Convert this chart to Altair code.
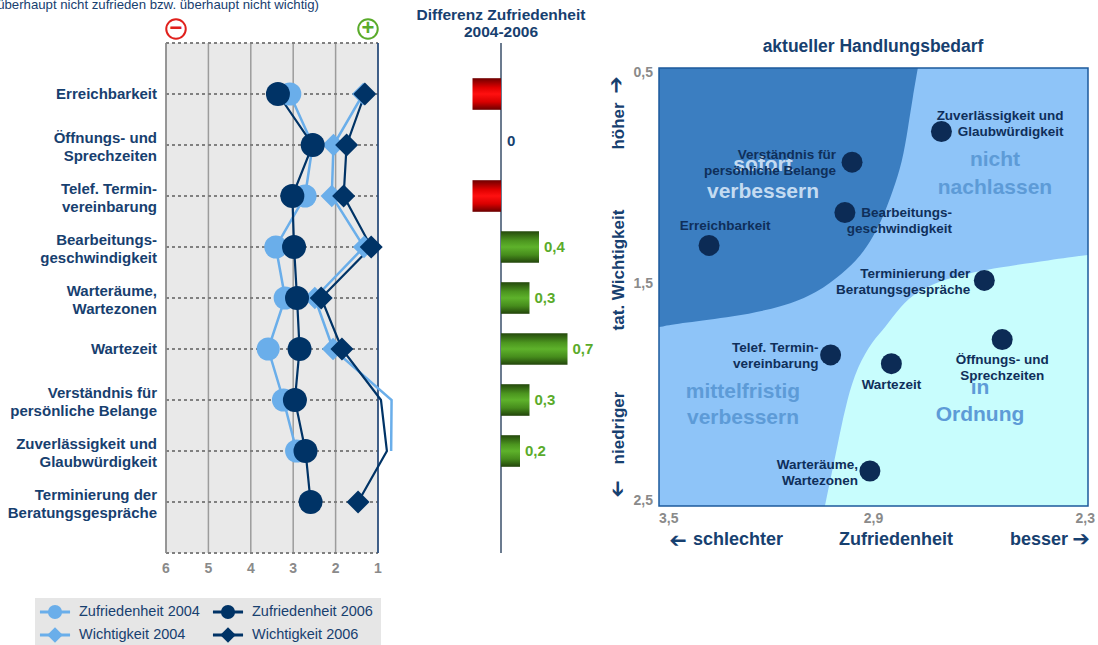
import altair as alt
import pandas as pd

W, H = 1098, 645
FONT = "Liberation Sans"
ARROW_FONT = "DejaVu Sans"
NAVY = "#17406f"
DEEP = "#0f2f5a"
GREY = "#8a8a8a"
LIGHT = "#6aaeea"
DARK = "#003366"

# ---- data -------------------------------------------------------------
categories = [
    "Erreichbarkeit",
    "Öffnungs- und\nSprechzeiten",
    "Telef. Termin-\nvereinbarung",
    "Bearbeitungs-\ngeschwindigkeit",
    "Warteräume,\nWartezonen",
    "Wartezeit",
    "Verständnis für\npersönliche Belange",
    "Zuverlässigkeit und\nGlaubwürdigkeit",
    "Terminierung der\nBeratungsgespräche",
]
zufriedenheit_2004 = [3.08, 2.54, 2.72, 3.41, 3.19, 3.59, 3.23, 2.92, None]
zufriedenheit_2006 = [3.36, 2.54, 3.02, 2.98, 2.91, 2.85, 2.96, 2.71, 2.59]
wichtigkeit_2004 = [1.35, 2.05, 2.09, 1.33, 2.49, 2.06, 0.68, 0.69, None]
wichtigkeit_2006 = [1.31, 1.74, 1.81, 1.16, 2.34, 1.85, 0.93, 0.79, 1.47]
differenz = [-0.3, 0.0, -0.3, 0.4, 0.3, 0.7, 0.3, 0.2, None]

left_ticks = [6, 5, 4, 3, 2, 1]
scatter_x_ticks = [3.5, 2.9, 2.3]
scatter_y_ticks = [0.5, 1.5, 2.5]

# outlines of the shaded action zones (Zufriedenheit, Wichtigkeit)
zone_sofort_x = [3.5, 3.433, 3.293, 3.153, 3.058, 2.985, 2.938, 2.901, 2.873, 2.845, 2.820, 2.803, 2.790, 2.776]
zone_sofort_y = [1.683, 1.664, 1.637, 1.591, 1.527, 1.436, 1.363, 1.272, 1.180, 1.057, 0.934, 0.769, 0.632, 0.5]
zone_ok_x = [3.036, 3.013, 2.994, 2.974, 2.946, 2.901, 2.868, 2.826, 2.778, 2.686, 2.546, 2.406, 2.300]
zone_ok_y = [2.5, 2.322, 2.167, 2.016, 1.865, 1.742, 1.687, 1.591, 1.518, 1.454, 1.409, 1.377, 1.354]

df = pd.DataFrame({
    "row": list(range(len(categories))),
    "label": categories,
    "z04": zufriedenheit_2004,
    "z06": zufriedenheit_2006,
    "w04": wichtigkeit_2004,
    "w06": wichtigkeit_2006,
    "diff": differenz,
})
df["lines"] = df["label"].str.count("\n") + 1

ONE = pd.DataFrame({"k": [0]})

# ---- panel scales (pixel ranges on the 1098x645 canvas) -----------------
LX = alt.Scale(domain=[6, 1], range=[166, 378], nice=False, zero=False)
LY = alt.Scale(domain=[-1, 9], range=[43, 553], nice=False, zero=False)
MX = alt.Scale(domain=[0, 1], range=[501, 596], nice=False, zero=False)
RX = alt.Scale(domain=[3.5, 2.3], range=[659, 1088], nice=False, zero=False)
RY = alt.Scale(domain=[0.5, 2.5], range=[68, 506], nice=False, zero=False)


def note(text, x, y, size, color=NAVY, bold=True, align="center",
         baseline="middle", angle=None, line_height=None, font=FONT):
    props = dict(text=text, font=font, fontSize=size,
                 fontWeight="bold" if bold else "normal", color=color,
                 align=align, baseline=baseline, lineBreak="\n")
    if angle is not None:
        props["angle"] = angle
    if line_height is not None:
        props["lineHeight"] = line_height
    return alt.Chart(ONE).mark_text(**props).encode(x=alt.value(x), y=alt.value(y))


def arrow(x, y, angle):
    return note("➔", x, y, 21, font=ARROW_FONT, bold=False, angle=angle)


layers = []

# ---- left panel: profile chart --------------------------------------------
layers.append(note("(1 = sehr zufrieden bzw. sehr wichtig, 6 = überhaupt nicht zufrieden bzw. überhaupt nicht wichtig)",
                   319, 9, 13.2, bold=False, align="right", baseline="alphabetic"))

for x, sym, c in [(176, "−", "#e0201c"), (368, "+", "#5aab2a")]:
    layers.append(alt.Chart(ONE).mark_point(shape="circle", filled=False, size=380, strokeWidth=2,
                                            opacity=1, color=c).encode(x=alt.value(x), y=alt.value(29)))
    layers.append(note(sym, x, 28, 22, color=c))

panel = pd.DataFrame({"x1": [6], "x2": [1], "y1": [-1], "y2": [9]})
layers.append(alt.Chart(panel).mark_rect(color="#e9e9e9").encode(
    x=alt.X("x1:Q", scale=LX, axis=None), x2="x2:Q",
    y=alt.Y("y1:Q", scale=LY, axis=None), y2="y2:Q"))

grid_df = pd.DataFrame({"x": [5, 4, 3, 2], "y1": -1, "y2": 9})
layers.append(alt.Chart(grid_df).mark_rule(color="#9c9c9c", strokeWidth=1.5).encode(
    x=alt.X("x:Q", scale=LX, axis=None), y=alt.Y("y1:Q", scale=LY, axis=None), y2="y2:Q"))

hline_df = pd.DataFrame({"y": list(range(-1, 10)), "x1": 6, "x2": 1})
layers.append(alt.Chart(hline_df).mark_rule(color="#808080", strokeWidth=2, strokeDash=[3, 3]).encode(
    y=alt.Y("y:Q", scale=LY, axis=None), x=alt.X("x1:Q", scale=LX, axis=None), x2="x2:Q"))

edge_df = pd.DataFrame({"x": [6, 1], "y1": -1, "y2": 9, "c": ["#8c8c8c", "#2d4f7c"]})
layers.append(alt.Chart(edge_df).mark_rule(strokeWidth=1.8).encode(
    x=alt.X("x:Q", scale=LX, axis=None), y=alt.Y("y1:Q", scale=LY, axis=None), y2="y2:Q",
    color=alt.Color("c:N", scale=None)))

# category names: two-line names are lifted so the block sits on the row
for n_lines, dy in [(1, 0), (2, -7)]:
    layers.append(alt.Chart(df[df["lines"] == n_lines]).mark_text(
        font=FONT, fontSize=15, fontWeight="bold", color=NAVY, align="right", baseline="middle",
        lineBreak="\n", lineHeight=18, dy=dy).encode(
        x=alt.value(157), y=alt.Y("row:Q", scale=LY, axis=None), text="label:N"))

tick_df = pd.DataFrame({"t": left_ticks})
layers.append(alt.Chart(tick_df).mark_text(font=FONT, fontSize=14, fontWeight="bold", color=GREY, baseline="middle").encode(
    x=alt.X("t:Q", scale=LX, axis=None), y=alt.value(569), text="t:Q"))


def series(col):
    return df[["row", col]].dropna().rename(columns={col: "v"})


def series_line(col, color, width):
    return alt.Chart(series(col)).mark_line(color=color, strokeWidth=width).encode(
        x=alt.X("v:Q", scale=LX, axis=None), y=alt.Y("row:Q", scale=LY, axis=None), order="row:Q")


def series_marks(col, color, shape, size):
    d = series(col)
    d = d[d["v"] >= 1]  # markers beyond the scale end stay hidden
    return alt.Chart(d).mark_point(shape=shape, filled=True, color=color, size=size, opacity=1, strokeWidth=0).encode(
        x=alt.X("v:Q", scale=LX, axis=None), y=alt.Y("row:Q", scale=LY, axis=None))


layers += [
    series_line("w04", LIGHT, 2.5),
    series_line("z04", LIGHT, 2.5),
    series_line("w06", DARK, 2.2),
    series_line("z06", DARK, 2.2),
    series_marks("z04", LIGHT, "circle", 530),
    series_marks("w04", LIGHT, "diamond", 500),
    series_marks("z06", DARK, "circle", 576),
    series_marks("w06", DARK, "diamond", 530),
]

# ---- middle panel: change in satisfaction --------------------------------
layers.append(note("Differenz Zufriedenheit\n2004-2006", 501, 15, 15.5, line_height=17))

axis_df = pd.DataFrame({"x": [0], "y1": [-1], "y2": [9]})
layers.append(alt.Chart(axis_df).mark_rule(color="#3a4f6a", strokeWidth=1.5).encode(
    x=alt.X("x:Q", scale=MX, axis=None), y=alt.Y("y1:Q", scale=LY, axis=None), y2="y2:Q"))

bars = df.dropna(subset=["diff"]).copy()
bars["zero"] = 0.0
bars["top"] = bars["row"] - 0.31
bars["bot"] = bars["row"] + 0.31
bars["txt"] = bars["diff"].map(lambda v: "0" if v == 0 else f"{v:.1f}".replace(".", ","))

red_fill = alt.LinearGradient(gradient="linear", x1=0, x2=0, y1=0, y2=1, stops=[
    alt.GradientStop(color="#6e0000", offset=0),
    alt.GradientStop(color="#e00000", offset=0.3),
    alt.GradientStop(color="#ff1010", offset=0.5),
    alt.GradientStop(color="#d80000", offset=0.75),
    alt.GradientStop(color="#6a0000", offset=1),
])
green_fill = alt.LinearGradient(gradient="linear", x1=0, x2=0, y1=0, y2=1, stops=[
    alt.GradientStop(color="#24480c", offset=0),
    alt.GradientStop(color="#4c961f", offset=0.3),
    alt.GradientStop(color="#5eb22b", offset=0.5),
    alt.GradientStop(color="#468c1c", offset=0.75),
    alt.GradientStop(color="#22440b", offset=1),
])

for subset, fill in [(bars[bars["diff"] < 0], red_fill), (bars[bars["diff"] > 0], green_fill)]:
    layers.append(alt.Chart(subset).mark_bar(color=fill).encode(
        x=alt.X("zero:Q", scale=MX, axis=None), x2="diff:Q",
        y=alt.Y("top:Q", scale=LY, axis=None), y2="bot:Q"))

layers.append(alt.Chart(bars[bars["diff"] > 0]).mark_text(
    font=FONT, fontSize=15, fontWeight="bold", color="#5aab2a", align="left", baseline="middle", dx=5).encode(
    x=alt.X("diff:Q", scale=MX, axis=None), y=alt.Y("row:Q", scale=LY, axis=None), text="txt:N"))
layers.append(alt.Chart(bars[bars["diff"] == 0]).mark_text(
    font=FONT, fontSize=15, fontWeight="bold", color=NAVY, align="left", baseline="middle", dx=6, dy=-4).encode(
    x=alt.X("diff:Q", scale=MX, axis=None), y=alt.Y("row:Q", scale=LY, axis=None), text="txt:N"))

# ---- right panel: action portfolio ---------------------------------------
layers.append(note("aktueller Handlungsbedarf", 873, 47, 17.5))

rpanel = pd.DataFrame({"x1": [3.5], "x2": [2.3], "y1": [0.5], "y2": [2.5]})
layers.append(alt.Chart(rpanel).mark_rect(color="#8ec4f8").encode(
    x=alt.X("x1:Q", scale=RX, axis=None), x2="x2:Q",
    y=alt.Y("y1:Q", scale=RY, axis=None), y2="y2:Q"))

sofort = pd.DataFrame({"x": zone_sofort_x, "y": zone_sofort_y, "edge": 0.5})
layers.append(alt.Chart(sofort).mark_area(color="#3b7ec1", interpolate="basis", opacity=1).encode(
    x=alt.X("x:Q", scale=RX, axis=None), y=alt.Y("y:Q", scale=RY, axis=None), y2="edge:Q"))
ok = pd.DataFrame({"x": zone_ok_x, "y": zone_ok_y, "edge": 2.5})
layers.append(alt.Chart(ok).mark_area(color="#c8fdfd", interpolate="basis", opacity=1).encode(
    x=alt.X("x:Q", scale=RX, axis=None), y=alt.Y("y:Q", scale=RY, axis=None), y2="edge:Q"))

layers.append(note("sofort\nverbessern", 763, 165, 21, color="#c4dbf1", line_height=27))
layers.append(note("nicht\nnachlassen", 995, 160, 21, color="#5d9bd7", line_height=28))
layers.append(note("mittelfristig\nverbessern", 743, 392, 21, color="#5d9bd7", line_height=26))
layers.append(note("in\nOrdnung", 980, 388, 21, color="#5d9bd7", line_height=27))

layers.append(alt.Chart(rpanel).mark_rect(fill=None, stroke="#1d5a9c", strokeWidth=1.5).encode(
    x=alt.X("x1:Q", scale=RX, axis=None), x2="x2:Q",
    y=alt.Y("y1:Q", scale=RY, axis=None), y2="y2:Q"))

layers.append(alt.Chart(df).mark_circle(size=440, color="#0c2b55", opacity=1).encode(
    x=alt.X("z06:Q", scale=RX, axis=None), y=alt.Y("w06:Q", scale=RY, axis=None)))

# label placement around each portfolio point: (dx, dy of first line, align)
placement = [
    (16, -19, "center"),
    (0, 20, "center"),
    (-12, -7, "right"),
    (107, 0, "right"),
    (-12, -6, "right"),
    (0, 21, "center"),
    (-16, -7, "right"),
    (122, -16, "right"),
    (-14, -6, "right"),
]
for i, (dx, dy, align) in enumerate(placement):
    layers.append(alt.Chart(df[df["row"] == i]).mark_text(
        font=FONT, fontSize=13.5, fontWeight="bold", color=DEEP, align=align, baseline="middle",
        lineBreak="\n", lineHeight=16, dx=dx, dy=dy).encode(
        x=alt.X("z06:Q", scale=RX, axis=None), y=alt.Y("w06:Q", scale=RY, axis=None), text="label:N"))

ytick_df = pd.DataFrame({"t": scatter_y_ticks, "s": [f"{v:.1f}".replace(".", ",") for v in scatter_y_ticks]})
for i, dy in enumerate([5, -3, -5]):
    layers.append(alt.Chart(ytick_df.iloc[[i]]).mark_text(
        font=FONT, fontSize=14, fontWeight="bold", color=GREY, align="right", baseline="middle", dy=dy).encode(
        x=alt.value(653), y=alt.Y("t:Q", scale=RY, axis=None), text="s:N"))

xtick_df = pd.DataFrame({"t": scatter_x_ticks, "s": [f"{v:.1f}".replace(".", ",") for v in scatter_x_ticks]})
for i, (align, dx) in enumerate([("left", 0), ("center", 0), ("right", 7)]):
    layers.append(alt.Chart(xtick_df.iloc[[i]]).mark_text(
        font=FONT, fontSize=14, fontWeight="bold", color=GREY, align=align, baseline="middle", dx=dx).encode(
        x=alt.X("t:Q", scale=RX, axis=None), y=alt.value(519), text="s:N"))

# axis captions with their direction arrows
layers.append(note("höher", 619, 126, 17, angle=270))
layers.append(arrow(617, 85, 270))
layers.append(note("tat. Wichtigkeit", 619, 270, 17, angle=270))
layers.append(note("niedriger", 619, 428, 17, angle=270))
layers.append(arrow(617, 489, 90))
layers.append(arrow(678, 540, 180))
layers.append(note("schlechter", 693, 540, 18, align="left"))
layers.append(note("Zufriedenheit", 896, 540, 18))
layers.append(note("besser", 1068, 540, 18, align="right"))
layers.append(arrow(1081, 540, 0))

# ---- legend --------------------------------------------------------------
layers.append(alt.Chart(ONE).mark_rect(color="#e6e6e6").encode(
    x=alt.value(35), x2=alt.value(381), y=alt.value(598), y2=alt.value(650)))

legend = pd.DataFrame({
    "name": ["Zufriedenheit 2004", "Zufriedenheit 2006", "Wichtigkeit 2004", "Wichtigkeit 2006"],
    "col": [0, 1, 0, 1],
    "line": [0, 0, 1, 1],
    "c": [LIGHT, DARK, LIGHT, DARK],
    "shape": ["circle", "circle", "diamond", "diamond"],
})
legend["a"] = legend["col"] - 0.087
legend["b"] = legend["col"] + 0.087
LGX = alt.Scale(domain=[0, 1], range=[55, 228], nice=False, zero=False)
LGY = alt.Scale(domain=[0, 1], range=[612, 635], nice=False, zero=False)
layers.append(alt.Chart(legend).mark_rule(strokeWidth=3).encode(
    x=alt.X("a:Q", scale=LGX, axis=None), x2="b:Q", y=alt.Y("line:Q", scale=LGY, axis=None),
    color=alt.Color("c:N", scale=None)))
for shape, size in [("circle", 200), ("diamond", 240)]:
    layers.append(alt.Chart(legend[legend["shape"] == shape]).mark_point(
        shape=shape, filled=True, size=size, opacity=1, strokeWidth=0).encode(
        x=alt.X("col:Q", scale=LGX, axis=None), y=alt.Y("line:Q", scale=LGY, axis=None),
        color=alt.Color("c:N", scale=None)))
layers.append(alt.Chart(legend).mark_text(
    font=FONT, fontSize=14.5, color=NAVY, align="left", baseline="middle", dx=24).encode(
    x=alt.X("col:Q", scale=LGX, axis=None), y=alt.Y("line:Q", scale=LGY, axis=None), text="name:N"))

chart = alt.layer(*layers).resolve_scale(
    x="independent", y="independent", color="independent"
).properties(
    width=W, height=H, padding=0,
    autosize=alt.AutoSizeParams(type="none"),
    background="white",
).configure_view(stroke=None)

chart.save("out.html", embed_options={"renderer": "svg", "actions": False})
